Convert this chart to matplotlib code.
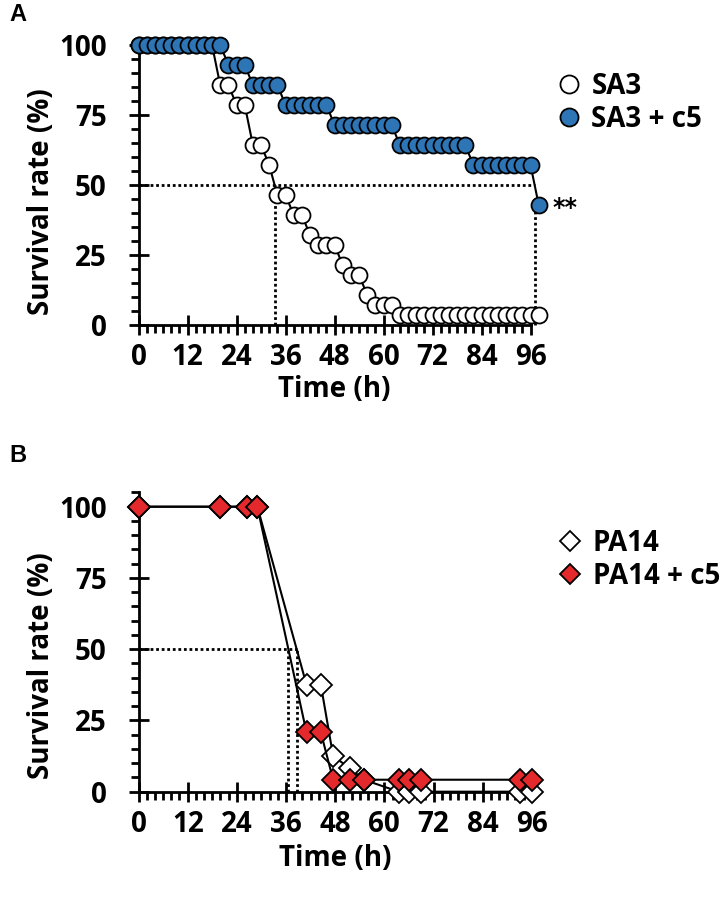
import matplotlib.pyplot as plt
from matplotlib.lines import Line2D
from matplotlib.ticker import MultipleLocator
from matplotlib.transforms import ScaledTranslation

plt.rcParams['font.family'] = ['Open Sans', 'DejaVu Sans']
plt.rcParams['font.weight'] = 'bold'


# ---- panel A : SA3 survival, read every 2 h
timeA = [0, 2, 4, 6, 8, 10, 12, 14, 16, 18,
         20, 22, 24, 26, 28, 30, 32, 34, 36, 38,
         40, 42, 44, 46, 48, 50, 52, 54, 56, 58,
         60, 62, 64, 66, 68, 70, 72, 74, 76, 78,
         80, 82, 84, 86, 88, 90, 92, 94, 96, 98]

sa3 = [100, 100, 100, 100, 100, 100, 100, 100, 100, 100,
       85.7, 85.7, 78.6, 78.6, 64.3, 64.3, 57.1, 46.4, 46.4, 39.3,
       39.3, 32.1, 28.6, 28.6, 28.6, 21.4, 17.9, 17.9, 10.7, 7.1,
       7.1, 7.1, 3.6, 3.6, 3.6, 3.6, 3.6, 3.6, 3.6, 3.6,
       3.6, 3.6, 3.6, 3.6, 3.6, 3.6, 3.6, 3.6, 3.6, 3.6]

sa3_c5 = [100, 100, 100, 100, 100, 100, 100, 100, 100, 100,
          100, 92.9, 92.9, 92.9, 85.7, 85.7, 85.7, 85.7, 78.6, 78.6,
          78.6, 78.6, 78.6, 78.6, 71.4, 71.4, 71.4, 71.4, 71.4, 71.4,
          71.4, 71.4, 64.3, 64.3, 64.3, 64.3, 64.3, 64.3, 64.3, 64.3,
          64.3, 57.1, 57.1, 57.1, 57.1, 57.1, 57.1, 57.1, 57.1, 42.9]

medianA = [33.3, 97.0]     # SA3, SA3 + c5

# ---- panel B : PA14 survival
timeB = [0, 20, 26.5, 29, 41, 44.5, 47.5, 51.5, 55, 63.5, 66, 69, 93, 96]
pa14 = [100, 100, 100, 100, 37.5, 37.5, 12.5, 8.3, 4.2, 0, 0, 0, 0, 0]
pa14_c5 = [100, 100, 100, 100, 20.8, 20.8, 4.2, 4.2, 4.2, 4.2, 4.2, 4.2, 4.2, 4.2]

medianB = [38.6, 36.6]     # PA14, PA14 + c5

xticks = [0, 12, 24, 36, 48, 60, 72, 84, 96]
yticks = [0, 25, 50, 75, 100]

blue = '#2E75B6'
red = '#E3292B'
dots = (0, (1, 1))


def styleAxes(ax, ytop):

    ax.spines['top'].set_visible(False)
    ax.spines['right'].set_visible(False)
    ax.spines['left'].set_linewidth(2)
    ax.spines['bottom'].set_linewidth(2)

    ax.set_xlim(0, 96)
    ax.set_ylim(0, ytop)
    ax.set_xticks(xticks)
    ax.set_yticks(yticks)
    ax.xaxis.set_minor_locator(MultipleLocator(2))
    ax.yaxis.set_minor_locator(MultipleLocator(5))

    ax.tick_params(which='major', direction='inout', length=14, width=2, labelsize=20)
    ax.tick_params(axis='y', which='major', pad=16)
    ax.tick_params(axis='x', which='major', pad=6)
    ax.tick_params(which='minor', direction='out', length=5.5, width=2)

    ax.set_xlabel('Time (h)', fontsize=20, fontweight='bold')
    ax.set_ylabel('Survival rate (%)', fontsize=20, fontweight='bold')


def legendAt(ax, handles, y):

    ax.legend(handles=handles, loc='upper left', bbox_to_anchor=(1.07, y),
              frameon=False, fontsize=20, handlelength=0.8, handletextpad=0.4,
              labelspacing=0.15, borderpad=0, borderaxespad=0)


fig = plt.figure(figsize=(7.23, 8.97), dpi=100)

##################################################################################################################

axA = fig.add_axes([0.1916, 0.6377, 0.5422, 0.3122])

axA.hlines(50, 0, medianA[1], colors='black', linestyles=dots, linewidth=2, zorder=1, clip_on=False)
axA.vlines(medianA, 0, [50, sa3_c5[-1]], colors='black', linestyles=dots, linewidth=2, zorder=1, clip_on=False)

axA.plot(timeA, sa3, '-o', color='black', linewidth=1.5, markersize=11.5,
         markerfacecolor='white', markeredgecolor='black', markeredgewidth=1.3, clip_on=False, zorder=3)
axA.plot(timeA, sa3_c5, '-o', color='black', linewidth=1.5, markersize=11.5,
         markerfacecolor=blue, markeredgecolor='black', markeredgewidth=1.3, clip_on=False, zorder=4)

axA.text(timeA[-1], sa3_c5[-1], '**', fontsize=17, fontweight='bold', va='center', ha='left',
         family=['DejaVu Sans'],
         transform=axA.transData + ScaledTranslation(0.14, -0.03, fig.dpi_scale_trans))

styleAxes(axA, 100)
axA.xaxis.set_label_coords(0.5, -0.18)
axA.yaxis.set_label_coords(-0.21, 0.44)

legendAt(axA, [
    Line2D([], [], ls='none', marker='o', markersize=13, markerfacecolor='white',
           markeredgecolor='black', markeredgewidth=1.3, label='SA3'),
    Line2D([], [], ls='none', marker='o', markersize=13, markerfacecolor=blue,
           markeredgecolor='black', markeredgewidth=1.3, label='SA3 + c5')], 0.905)

##################################################################################################################

# y axis of B runs up to 105 (one extra minor tick above 100)
axB = fig.add_axes([0.1916, 0.1174, 0.5440, 0.3336])

axB.hlines(50, 0, max(medianB), colors='black', linestyles=dots, linewidth=2, zorder=1)
axB.vlines(medianB, 0, 50, colors='black', linestyles=dots, linewidth=2, zorder=1)

axB.plot(timeB, pa14, '-D', color='black', linewidth=1.5, markersize=11.5,
         markerfacecolor='white', markeredgecolor='black', markeredgewidth=1.3, clip_on=False, zorder=3)
axB.plot(timeB, pa14_c5, '-D', color='black', linewidth=1.5, markersize=11.5,
         markerfacecolor=red, markeredgecolor='black', markeredgewidth=1.3, clip_on=False, zorder=4)

styleAxes(axB, 105)
axB.xaxis.set_label_coords(0.5, -0.176)
axB.yaxis.set_label_coords(-0.21, 0.42)

legendAt(axB, [
    Line2D([], [], ls='none', marker='D', markersize=10, markerfacecolor='white',
           markeredgecolor='black', markeredgewidth=1.3, label='PA14'),
    Line2D([], [], ls='none', marker='D', markersize=10, markerfacecolor=red,
           markeredgecolor='black', markeredgewidth=1.3, label='PA14 + c5')], 0.878)

##################################################################################################################

fig.text(0.013, 0.997, 'A', fontsize=17, fontweight='bold', family=['Liberation Sans', 'DejaVu Sans'], va='top')
fig.text(0.013, 0.5045, 'B', fontsize=17, fontweight='bold', family=['Liberation Sans', 'DejaVu Sans'], va='top')

fig.savefig('out.png', dpi=100)
